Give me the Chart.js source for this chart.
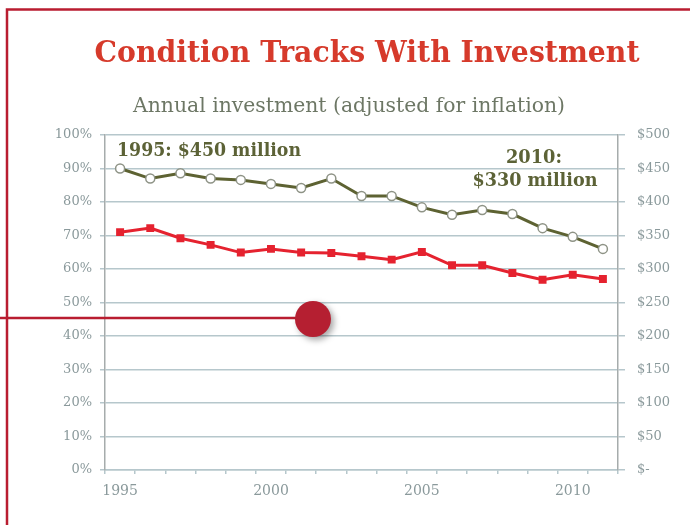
<!DOCTYPE html>
<html>
<head>
<meta charset="utf-8">
<script src="https://cdn.jsdelivr.net/npm/chart.js@4"></script>
<style>
  html, body { margin: 0; padding: 0; background: #ffffff; }
  #wrap { width: 690px; height: 525px; position: relative; }
</style>
</head>
<body>
<div id="wrap"><canvas id="conditionChart"></canvas></div>
<script>
const years = ['1995', '1996', '1997', '1998', '1999', '2000', '2001', '2002', '2003',
               '2004', '2005', '2006', '2007', '2008', '2009', '2010', '2011'];
// share of network in good condition, percent (left axis)
const conditionPct = [71, 72.2, 69.2, 67.2, 64.9, 66, 64.9, 64.8, 63.8,
                      62.8, 65.1, 61.1, 61.1, 58.8, 56.8, 58.3, 57];
// annual investment, millions of dollars (right axis)
const investment = [450, 435, 443, 435, 433, 427, 421, 435, 409,
                    409, 392, 381, 388, 382, 361, 348, 330];

const titleText = 'Condition Tracks With Investment';
const subtitleText = 'Annual investment (adjusted for inflation)';
const startNote = '1995: $450 million';
const endNote = ['2010:', '$330 million'];

const tickColor = '#8a999b';
const gridColor = '#b6c7cc';
const serif = '"DejaVu Serif", "Liberation Serif", serif';

// draw text squeezed/stretched horizontally to a given width
function fitText(ctx, text, x, baseline, width, font, align) {
    ctx.font = font;
    const w = ctx.measureText(text).width;
    ctx.save();
    ctx.translate(x, baseline);
    ctx.scale(width / w, 1);
    ctx.textAlign = align || 'center';
    ctx.textBaseline = 'alphabetic';
    ctx.fillText(text, 0, 0);
    ctx.restore();
}

const decorPlugin = {
    id: 'decorPlugin',
    beforeDraw: (chart) => {
        const { ctx, width, height } = chart;
        ctx.save();
        ctx.fillStyle = '#ffffff';
        ctx.fillRect(0, 0, width, height);
        ctx.restore();
    },
    afterDraw: (chart) => {
        const { ctx } = chart;
        ctx.save();

        // frame
        ctx.strokeStyle = '#b91d30';
        ctx.lineWidth = 2.5;
        ctx.beginPath();
        ctx.moveTo(7, 525);
        ctx.lineTo(7, 9.5);
        ctx.lineTo(690, 9.5);
        ctx.stroke();

        // pointer line and dot
        ctx.beginPath();
        ctx.moveTo(0, 318);
        ctx.lineTo(305, 318);
        ctx.stroke();
        ctx.save();
        ctx.shadowColor = 'rgba(0,0,0,0.35)';
        ctx.shadowBlur = 6;
        ctx.shadowOffsetX = 3;
        ctx.shadowOffsetY = 3;
        ctx.fillStyle = '#b51f31';
        ctx.beginPath();
        ctx.arc(313, 319, 18, 0, Math.PI * 2);
        ctx.fill();
        ctx.restore();

        // headings
        ctx.fillStyle = '#d63a2b';
        fitText(ctx, titleText, 367, 62, 545, 'bold 30px ' + serif);
        ctx.fillStyle = '#6d7765';
        fitText(ctx, subtitleText, 349, 112, 432, '21px ' + serif);

        // notes on the investment line
        ctx.fillStyle = '#5c6236';
        fitText(ctx, startNote, 117, 156, 184, 'bold 18px ' + serif, 'left');
        fitText(ctx, endNote[0], 534, 163, 56, 'bold 18px ' + serif);
        fitText(ctx, endNote[1], 535, 186, 125, 'bold 18px ' + serif);

        ctx.restore();
    }
};

new Chart(document.getElementById('conditionChart'), {
    type: 'line',
    data: {
        labels: years,
        datasets: [
            {
                label: 'Investment',
                data: investment,
                yAxisID: 'y1',
                borderColor: '#5d6232',
                borderWidth: 3,
                pointStyle: 'circle',
                pointRadius: 4.5,
                pointBackgroundColor: '#ffffff',
                pointBorderColor: '#8e9386',
                pointBorderWidth: 1.5,
                tension: 0
            },
            {
                label: 'Condition',
                data: conditionPct,
                yAxisID: 'y',
                borderColor: '#e5222f',
                borderWidth: 3,
                pointStyle: 'rect',
                pointRadius: 3.5,
                pointBackgroundColor: '#e5222f',
                pointBorderColor: '#e5222f',
                tension: 0
            }
        ]
    },
    options: {
        responsive: true,
        maintainAspectRatio: false,
        animation: false,
        layout: { padding: { top: 135, left: 0, right: 0, bottom: 0 } },
        scales: {
            x: {
                offset: true,
                grid: { drawOnChartArea: false, offset: true, tickLength: 4, color: gridColor, lineWidth: 1.5 },
                border: { color: gridColor, width: 1.5 },
                ticks: {
                    autoSkip: false,
                    maxRotation: 0,
                    color: tickColor,
                    font: { family: serif, size: 14 },
                    padding: 9,
                    callback: function (value, index) {
                        return index % 5 === 0 ? this.getLabelForValue(value) : '';
                    }
                },
                afterFit: (scale) => { scale.height = 55; }
            },
            y: {
                position: 'left',
                min: 0, max: 100,
                grid: { color: gridColor, lineWidth: 1.5, tickLength: 5 },
                border: { color: '#a6acac', width: 1.5 },
                ticks: {
                    stepSize: 10,
                    color: tickColor,
                    font: { family: serif, size: 13 },
                    padding: 8,
                    callback: (v) => v + '%'
                },
                afterFit: (scale) => { scale.width = 105; }
            },
            y1: {
                position: 'right',
                min: 0, max: 500,
                grid: { drawOnChartArea: false, color: gridColor, lineWidth: 1.5, tickLength: 7 },
                border: { color: '#a6acac', width: 1.5 },
                ticks: {
                    stepSize: 50,
                    color: tickColor,
                    font: { family: serif, size: 13 },
                    padding: 12,
                    callback: (v) => v === 0 ? '$-' : '$' + v
                },
                afterFit: (scale) => { scale.width = 72; }
            }
        },
        plugins: {
            legend: { display: false },
            tooltip: { enabled: false }
        }
    },
    plugins: [decorPlugin]
});
</script>
</body>
</html>
